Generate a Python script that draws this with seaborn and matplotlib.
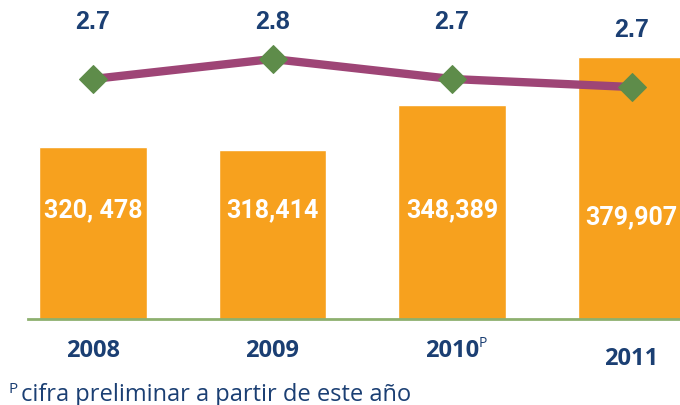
import matplotlib
matplotlib.use("Agg")
import matplotlib.pyplot as plt
import matplotlib.transforms as mtransforms
import seaborn as sns
import pandas as pd

years = ["2008", "2009", "2010", "2011"]
bar_values = [320478, 318414, 348389, 379907]
bar_labels = ["320, 478", "318,414", "348,389", "379,907"]
pct_values = [2.70, 2.80, 2.70, 2.66]
pct_labels = ["2.7", "2.8", "2.7", "2.7"]
footnote = "cifra preliminar a partir de este año"

ORANGE = "#F7A11E"
PURPLE = "#9E4576"
GREEN = "#5E8C4A"
BASE = "#8DB06F"
NAVY = "#1B3F73"

sns.set_theme(style="white")
plt.rcParams["font.family"] = ["Roboto", "DejaVu Sans"]

fig = plt.figure(figsize=(6.8, 4.06), dpi=100)
ax = fig.add_axes([28 / 680, (406 - 320) / 406, 652 / 680, 320 / 406])

XL = (-0.362, 3.27)

df = pd.DataFrame({"year": years, "value": bar_values})
sns.barplot(data=df, x="year", y="value", color=ORANGE, saturation=1,
            width=0.6, ax=ax)
ax.set_xlim(*XL)
ax.set_ylim(207000, 418000)
ax.set_xticks([])
ax.set_yticks([])
ax.set_xlabel("")
ax.set_ylabel("")
for s in ["top", "left", "right"]:
    ax.spines[s].set_visible(False)
ax.spines["bottom"].set_color(BASE)
ax.spines["bottom"].set_linewidth(2)
ax.spines["bottom"].set_zorder(5)

ax2 = ax.twinx()
sns.lineplot(x=list(range(len(years))), y=pct_values, ax=ax2, color=PURPLE,
             linewidth=6, marker="D", markersize=14.5, markerfacecolor=GREEN,
             markeredgecolor=GREEN, zorder=4)
ax2.set_ylim(1.5, 3.1)
ax2.set_yticks([])
ax2.set_xticks([])
for s in ["top", "left", "right", "bottom"]:
    ax2.spines[s].set_visible(False)
ax2.set_xlim(*XL)

tr = mtransforms.blended_transform_factory(ax.transData, fig.transFigure)
pct_y = [22, 22, 22, 30]
bar_y = [210, 210, 210, 217]
year_y = [357, 357, 357, 365]
for i in range(len(years)):
    ax.text(i, 1 - pct_y[i] / 406, pct_labels[i], transform=tr, ha="center",
            va="center", fontsize=18, fontweight="bold", color=NAVY,
            family=["Liberation Sans", "DejaVu Sans"])
    ax.text(i, 1 - bar_y[i] / 406, bar_labels[i], transform=tr, ha="center",
            va="center", fontsize=18, fontweight="bold", color="white", zorder=6)
    ax.text(i, 1 - year_y[i] / 406, years[i], transform=tr, ha="center",
            va="baseline", fontsize=17, fontweight="bold", color=NAVY,
            family=["Open Sans", "DejaVu Sans"], clip_on=False)
# superscript P for 2010
fig.text(479 / 680, 1 - 347 / 406, "P", ha="left", va="baseline",
         fontsize=10, color=NAVY, family=["Open Sans", "DejaVu Sans"])

fig.text(9 / 680, 1 - 393 / 406, "P", ha="left", va="baseline", fontsize=11,
         color=NAVY, family=["Open Sans", "DejaVu Sans"])
fig.text(21 / 680, 1 - 401 / 406, footnote, ha="left", va="baseline",
         fontsize=17, color=NAVY, family=["Open Sans", "DejaVu Sans"])

fig.savefig("out.png", dpi=100)
